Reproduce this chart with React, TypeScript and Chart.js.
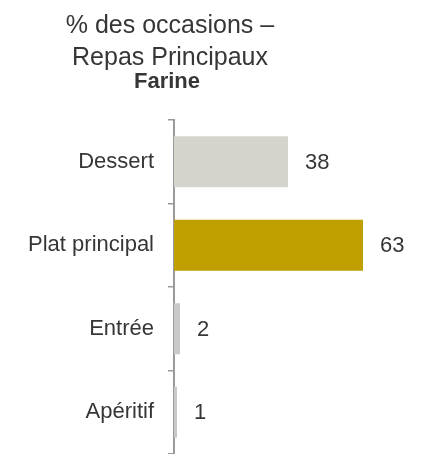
import React, { useEffect, useRef } from "react";
import { Chart, registerables } from "chart.js";

Chart.register(...registerables);

const titleLines = ["% des occasions –", "Repas Principaux"];
const subtitle = "Farine";
const categories = ["Dessert", "Plat principal", "Entrée", "Apéritif"];
const values = [38, 63, 2, 1];

const BAR_COLORS = ["#D4D4CC", "#BFA000", "#C8C8C8", "#C8C8C8"];
const TEXT = "#363636";
const FONT = "'Liberation Sans', Arial, sans-serif";

const titlePlugin = {
  id: "customTitle",
  afterDraw(chart: any) {
    const ctx = chart.ctx;
    ctx.save();
    ctx.fillStyle = TEXT;
    ctx.textAlign = "center";
    ctx.textBaseline = "alphabetic";
    ctx.font = `25px ${FONT}`;
    ctx.fillText(titleLines[0], 170, 33);
    ctx.fillText(titleLines[1], 170, 65);
    ctx.font = `bold 22px ${FONT}`;
    ctx.fillText(subtitle, 167, 88);
    ctx.restore();
  },
};

const valueLabelPlugin = {
  id: "valueLabels",
  afterDatasetsDraw(chart: any) {
    const ctx = chart.ctx;
    const meta = chart.getDatasetMeta(0);
    ctx.save();
    ctx.fillStyle = TEXT;
    ctx.font = `22px ${FONT}`;
    ctx.textAlign = "left";
    ctx.textBaseline = "middle";
    meta.data.forEach((bar: any, i: number) => {
      ctx.fillText(String(values[i]), bar.x + 17, bar.y + 1);
    });
    ctx.restore();
  },
};

export default function App() {
  const ref = useRef<HTMLCanvasElement | null>(null);

  useEffect(() => {
    document.body.style.margin = "0";
    const chart = new Chart(ref.current as HTMLCanvasElement, {
      type: "bar",
      data: {
        labels: categories,
        datasets: [
          {
            data: values,
            backgroundColor: BAR_COLORS,
            borderWidth: 0,
            barPercentage: 0.61,
            categoryPercentage: 1,
          },
        ],
      },
      options: {
        indexAxis: "y",
        responsive: false,
        animation: false,
        layout: { padding: { top: 120, right: 0, bottom: 0, left: 0 } },
        plugins: {
          legend: { display: false },
          title: { display: false },
          tooltip: { enabled: false },
        },
        scales: {
          x: {
            display: false,
            min: 0,
            max: 84,
          },
          y: {
            offset: true,
            afterFit: (s: any) => {
              s.width = 174;
              s.paddingTop = 0;
              s.paddingBottom = 0;
            },
            grid: {
              offset: true,
              drawOnChartArea: false,
              drawTicks: true,
              tickLength: 6,
              tickColor: "#9a9a9a",
              lineWidth: 1.5,
            },
            border: { display: true, color: "#9a9a9a", width: 2 },
            ticks: {
              color: TEXT,
              padding: 14,
              font: { family: FONT, size: 22 },
            },
          },
        },
      },
      plugins: [titlePlugin, valueLabelPlugin],
    });
    return () => chart.destroy();
  }, []);

  return (
    <div style={{ position: "absolute", left: 0, top: 0, width: 426, height: 454, background: "#fff" }}>
      <canvas ref={ref} width={426} height={454} />
    </div>
  );
}
